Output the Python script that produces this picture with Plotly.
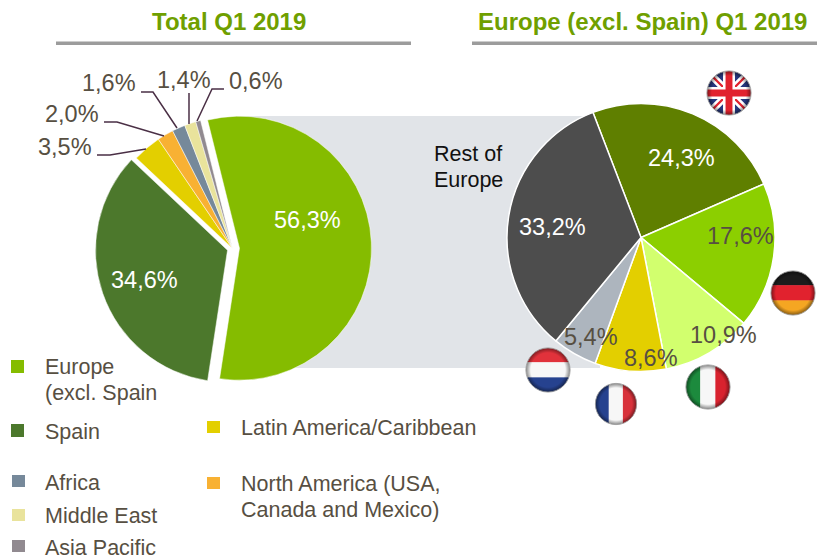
import base64
import plotly.graph_objects as go

W, H = 817, 559

# ---- data ----
regions = ["Europe (excl. Spain)", "Spain", "Latin America/Caribbean",
           "North America (USA, Canada and Mexico)", "Africa", "Middle East", "Asia Pacific"]
region_values = [56.3, 34.6, 3.5, 2.0, 1.6, 1.4, 0.6]
countries = ["United Kingdom", "Germany", "Italy", "France", "Netherlands", "Rest of Europe"]
country_values = [24.3, 17.6, 10.9, 8.6, 5.4, 33.2]

# ---- styles ----
region_colors = ["#85BC00", "#4C782C", "#E3CF00", "#F8B133", "#76899A", "#E9E39C", "#918A90"]
country_colors = ["#5F7F00", "#8CCF00", "#D2FF6E", "#E3CF00", "#ADB5BE", "#4D4D4D"]
region_pull = [0.053, 0.04, 0, 0, 0, 0, 0]
FONT = "Liberation Sans"
TXT = "#574F42"
GREEN = "#6F9F00"


def fx(x):
    return x / W


def fy(y):
    return 1 - y / H


def pct(v):
    return f"{v:.1f}%".replace(".", ",")


def note(text, x, y, color=TXT, size=23.5, anchor="center", bold=False):
    return dict(text=f"<b>{text}</b>" if bold else text, x=fx(x), y=fy(y), xref="paper", yref="paper",
                xanchor=anchor, yanchor="middle", showarrow=False,
                font=dict(family=FONT, size=size, color=color))


def rect(x0, y0, x1, y1, color, layer="above"):
    return dict(type="rect", xref="paper", yref="paper", x0=fx(x0), x1=fx(x1), y0=fy(y0), y1=fy(y1),
                fillcolor=color, line=dict(width=0), layer=layer)


def polyline(pts):
    d = "M" + " L".join(f"{fx(x):.5f},{fy(y):.5f}" for x, y in pts)
    return dict(type="path", path=d, xref="paper", yref="paper",
                line=dict(color="#4A2F45", width=1.5))


def flag(inner, cx, cy, r):
    svg = ('<svg xmlns="http://www.w3.org/2000/svg" viewBox="0 0 100 100">'
           '<defs><clipPath id="c"><circle cx="50" cy="50" r="48"/></clipPath>'
           '<filter id="b"><feGaussianBlur stdDeviation="1.2"/></filter>'
           '<radialGradient id="g" cx="50%" cy="50%" r="50%">'
           '<stop offset="78%" stop-color="#000" stop-opacity="0"/>'
           '<stop offset="100%" stop-color="#000" stop-opacity="0.45"/></radialGradient></defs>'
           f'<g clip-path="url(#c)"><g filter="url(#b)">{inner}</g><circle cx="50" cy="50" r="48" fill="url(#g)"/></g>'
           '<circle cx="50" cy="50" r="48" fill="none" stroke="#999" stroke-width="2"/></svg>')
    src = "data:image/svg+xml;base64," + base64.b64encode(svg.encode()).decode()
    return dict(source=src, xref="paper", yref="paper", x=fx(cx - r), y=fy(cy - r),
                sizex=2 * r / W, sizey=2 * r / H, xanchor="left", yanchor="top",
                sizing="stretch", layer="above")


def bands_h(c1, c2, c3):
    return (f'<rect x="-5" y="-5" width="110" height="39" fill="{c1}"/><rect x="-5" y="33" width="110" height="34" fill="{c2}"/>'
            f'<rect x="-5" y="66" width="110" height="39" fill="{c3}"/>')


def bands_v(c1, c2, c3):
    return (f'<rect x="-5" y="-5" width="39" height="110" fill="{c1}"/><rect x="33" y="-5" width="34" height="110" fill="{c2}"/>'
            f'<rect x="66" y="-5" width="39" height="110" fill="{c3}"/>')


uk = ('<rect x="-5" y="-5" width="110" height="110" fill="#26387F"/>'
      '<path d="M0 0L100 100M100 0L0 100" stroke="#fff" stroke-width="16"/>'
      '<path d="M0 0L100 100M100 0L0 100" stroke="#E1202E" stroke-width="5"/>'
      '<path d="M50 -5V105M-5 50H105" stroke="#fff" stroke-width="26"/>'
      '<path d="M50 -5V105M-5 50H105" stroke="#E1202E" stroke-width="15"/>')

fig = go.Figure()
fig.add_trace(go.Pie(labels=regions, values=region_values, sort=False, direction="clockwise",
                     rotation=-14, pull=region_pull, textinfo="none", showlegend=False,
                     marker=dict(colors=region_colors, line=dict(color="white", width=0.5)),
                     domain=dict(x=[fx(93.5), fx(371.5)], y=[fy(387.5), fy(109.5)])))
fig.add_trace(go.Pie(labels=countries, values=country_values, sort=False, direction="clockwise",
                     rotation=-21, textinfo="none", showlegend=False,
                     marker=dict(colors=country_colors, line=dict(color="white", width=1.5)),
                     domain=dict(x=[fx(507), fx(775)], y=[fy(371.5), fy(103.5)])))

shapes = [
    rect(240, 116, 600, 368, "#E1E4E8", layer="below"),
    rect(56, 41.5, 411, 45, "#9C9C9C"),
    rect(472, 41.5, 817, 45, "#9C9C9C"),
    rect(11, 360, 24, 373, region_colors[0]),
    rect(11, 424, 24, 437, region_colors[1]),
    rect(207, 421, 220, 433, region_colors[2]),
    rect(207, 477, 220, 489, region_colors[3]),
    rect(12, 475, 25, 487, region_colors[4]),
    rect(12, 509, 25, 521, region_colors[5]),
    rect(12, 540, 25, 552, region_colors[6]),
    polyline([(97, 155), (110, 155), (146, 149)]),
    polyline([(104, 122), (117, 122), (164, 136)]),
    polyline([(141, 92), (153, 92), (177, 128)]),
    polyline([(189, 93), (189, 124)]),
    polyline([(224, 89), (212, 89), (197, 121)]),
]

W_TXT = "#FFFFFF"
LEG = 21.5
annotations = [
    note("Total Q1 2019", 229.5, 21, GREEN, 24, bold=True),
    note("Europe (excl. Spain) Q1 2019", 642, 21, GREEN, 24, bold=True),
    note(pct(region_values[0]), 307, 220, W_TXT),
    note(pct(region_values[1]), 144, 280, W_TXT),
    note(pct(region_values[2]), 65, 147),
    note(pct(region_values[3]), 72, 114),
    note(pct(region_values[4]), 109, 83),
    note(pct(region_values[5]), 183.5, 80),
    note(pct(region_values[6]), 256, 81),
    note(pct(country_values[0]), 681, 158, W_TXT),
    note(pct(country_values[1]), 740, 236),
    note(pct(country_values[2]), 723, 335),
    note(pct(country_values[3]), 651, 358),
    note(pct(country_values[4]), 591, 337),
    note(pct(country_values[5]), 552, 227, W_TXT),
    note("Rest of", 432, 154, "#111111", 21.5, "left"),
    note("Europe", 432, 180, "#111111", 21.5, "left"),
    note("Europe", 43, 367, TXT, LEG, "left"),
    note("(excl. Spain", 43, 393, TXT, LEG, "left"),
    note("Spain", 43, 432, TXT, LEG, "left"),
    note("Africa", 43, 483, TXT, LEG, "left"),
    note("Middle East", 43, 516, TXT, LEG, "left"),
    note("Asia Pacific", 43, 548, TXT, LEG, "left"),
    note("Latin America/Caribbean", 239, 428, TXT, LEG, "left"),
    note("North America (USA,", 239, 484, TXT, LEG, "left"),
    note("Canada and Mexico)", 239, 510, TXT, LEG, "left"),
]

images = [
    flag(uk, 729, 93, 23),
    flag(bands_h("#1C1C1C", "#E1202E", "#F5A623"), 793, 293, 23),
    flag(bands_v("#1E8A3C", "#F7F7F7", "#D8202E"), 708, 387, 23),
    flag(bands_h("#E1303A", "#F7F7F7", "#26428F"), 548, 370, 23),
    flag(bands_v("#26428F", "#F7F7F7", "#D8303A"), 616, 404, 21.5),
]

fig.update_layout(width=W, height=H, margin=dict(l=0, r=0, t=0, b=0),
                  paper_bgcolor="white", plot_bgcolor="white",
                  shapes=shapes, annotations=annotations, images=images)
fig.write_html("out.html", config=dict(displayModeBar=False),
               post_script="document.body.style.margin='0';")
